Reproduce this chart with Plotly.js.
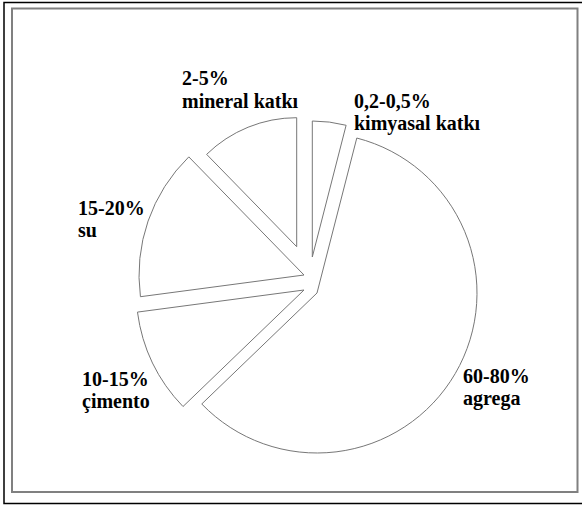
<!DOCTYPE html>
<html>
<head>
<meta charset="utf-8">
<script src="https://cdn.plot.ly/plotly-3.0.1.min.js"></script>
<style>html,body{margin:0;padding:0;background:#fff;}#chart{width:582px;height:506px;}</style>
</head>
<body>
<div id="chart"></div>
<script>
// ---- data ----
const categories = ["kimyasal katkı", "agrega", "çimento", "su", "mineral katkı"];
const shares = [4.0, 58.8, 10.1, 14.8, 12.3];          // visual share of the pie (%)
const rangeLabels = ["0,2-0,5%", "60-80%", "10-15%", "15-20%", "2-5%"];

// ---- layout (pixels) ----
const W = 582, H = 506;
const wedgeCenter = [[312.3, 257], [317, 293], [304, 290], [304, 275], [296.7, 246.7]];
const wedgeRadius = [136, 160, 168, 165, 129];
const labelLeft = [355, 464.3, 82.7, 79.3, 182.7];
const labelBaseline = [107.7, 382.3, 386, 214.3, 85];
const lineGap = 22.5;
const fontSize = 20;

const traces = categories.map((c, i) => {
  const [cx, cy] = wedgeCenter[i];
  const r = wedgeRadius[i];
  return {
    type: 'pie',
    labels: categories,
    values: shares,
    sort: false,
    direction: 'clockwise',
    rotation: 0,
    textinfo: 'none',
    hoverinfo: 'label',
    showlegend: false,
    marker: {
      colors: categories.map((_, j) => j === i ? '#ffffff' : 'rgba(0,0,0,0)'),
      line: {
        color: categories.map((_, j) => j === i ? '#777777' : 'rgba(0,0,0,0)'),
        width: categories.map((_, j) => j === i ? 1 : 0)
      }
    },
    domain: {
      x: [(cx - r) / W, (cx + r) / W],
      y: [1 - (cy + r) / H, 1 - (cy - r) / H]
    }
  };
});

const font = {family: 'Liberation Serif, "Times New Roman", serif', size: fontSize, color: '#000', weight: 'bold'};
const annotations = [];
categories.forEach((c, i) => {
  const lines = [rangeLabels[i], c];
  lines.forEach((t, k) => {
    const base = labelBaseline[i] + k * lineGap;
    annotations.push({
      xref: 'paper', yref: 'paper',
      x: (labelLeft[i] - 3) / W,
      y: 1 - (base - 6.75) / H,
      xanchor: 'left', yanchor: 'middle',
      text: t, showarrow: false, font: font
    });
  });
});

const shapes = [
  {type: 'rect', xref: 'paper', yref: 'paper', x0: 4 / W, x1: 1.02, y0: 1 - 503.5 / H, y1: 1 - 2.5 / H,
   line: {color: '#000', width: 1.5}, fillcolor: 'rgba(0,0,0,0)'},
  {type: 'rect', xref: 'paper', yref: 'paper', x0: 12 / W, x1: 577.5 / W, y0: 1 - 492 / H, y1: 1 - 8.5 / H,
   line: {color: '#808080', width: 2}, fillcolor: 'rgba(0,0,0,0)'}
];

const layout = {
  width: W, height: H,
  margin: {l: 0, r: 0, t: 0, b: 0},
  paper_bgcolor: '#fff', plot_bgcolor: '#fff',
  showlegend: false,
  annotations: annotations,
  shapes: shapes
};

Plotly.newPlot('chart', traces, layout, {displayModeBar: false, staticPlot: true});
</script>
</body>
</html>
